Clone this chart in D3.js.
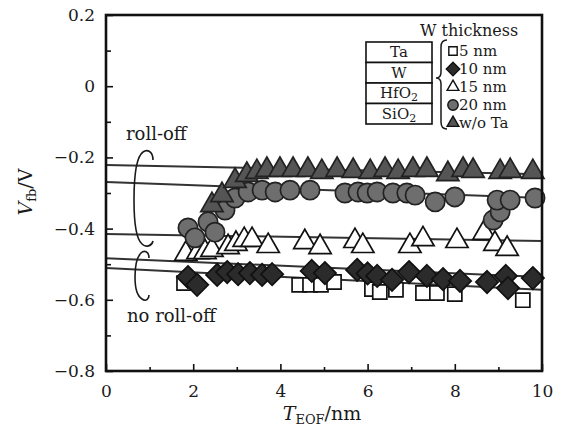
<!DOCTYPE html>
<html>
<head>
<meta charset="utf-8">
<script src="https://cdn.jsdelivr.net/npm/d3@7"></script>
<style>
  html, body { margin: 0; padding: 0; background: #fff; }
  svg { display: block; }
  text { font-family: "DejaVu Serif", "Liberation Serif", serif; fill: #1a1a1a; }
</style>
</head>
<body>
<svg id="chart" width="565" height="430"></svg>
<script>
// Flat-band voltage vs. equivalent oxide thickness for several W thicknesses
const xTicks = [0, 2, 4, 6, 8, 10];
const yTicks = [0.2, 0, -0.2, -0.4, -0.6, -0.8];
const xMinor = [1, 3, 5, 7, 9];
const yMinor = [0.1, -0.1, -0.3, -0.5, -0.7];

// 5 nm W (open squares)
const w5x = [1.79, 4.43, 4.68, 4.93, 5.23, 6.10, 6.28, 6.65, 7.27, 7.59, 8.00, 9.56];
const w5y = [-0.553, -0.558, -0.558, -0.558, -0.550, -0.570, -0.578, -0.572, -0.581, -0.581, -0.584, -0.601];
// 10 nm W (filled diamonds)
const w10x = [1.88, 2.09, 2.55, 2.78, 3.03, 3.30, 3.58, 3.81, 4.72, 5.02, 5.76, 6.00, 6.22, 6.56, 6.95, 7.36, 7.73, 8.12, 8.74, 9.17, 9.22, 9.79];
const w10y = [-0.536, -0.558, -0.530, -0.522, -0.528, -0.525, -0.530, -0.528, -0.519, -0.525, -0.516, -0.526, -0.533, -0.544, -0.522, -0.533, -0.542, -0.547, -0.550, -0.533, -0.567, -0.539];
// 15 nm W (open triangles)
const w15x = [1.83, 2.11, 2.27, 2.43, 2.80, 2.98, 3.17, 3.35, 3.72, 4.56, 4.91, 5.71, 5.89, 6.97, 7.27, 8.05, 8.67, 8.92, 9.20];
const w15y = [-0.471, -0.466, -0.466, -0.460, -0.452, -0.443, -0.432, -0.432, -0.449, -0.438, -0.452, -0.435, -0.449, -0.449, -0.430, -0.435, -0.412, -0.443, -0.457];
// 20 nm W (gray circles)
const w20x = [1.88, 2.04, 2.34, 2.50, 2.73, 2.96, 3.26, 3.58, 3.88, 4.22, 4.68, 5.48, 5.78, 5.99, 6.22, 6.58, 6.90, 7.09, 7.55, 8.00, 8.88, 9.04, 8.97, 9.27, 9.84];
const w20y = [-0.398, -0.426, -0.381, -0.410, -0.348, -0.314, -0.297, -0.292, -0.297, -0.292, -0.292, -0.300, -0.297, -0.300, -0.297, -0.300, -0.300, -0.306, -0.325, -0.311, -0.376, -0.353, -0.320, -0.320, -0.314];
// without Ta cap (filled triangles)
const noTaX = [2.43, 2.66, 2.96, 3.23, 3.46, 3.69, 3.99, 4.29, 4.63, 4.95, 5.30, 5.67, 6.06, 6.40, 6.70, 7.04, 7.36, 7.84, 8.19, 8.42, 9.04, 9.27, 9.79];
const noTaY = [-0.334, -0.306, -0.266, -0.249, -0.241, -0.235, -0.235, -0.235, -0.235, -0.241, -0.235, -0.238, -0.241, -0.235, -0.241, -0.235, -0.235, -0.247, -0.235, -0.238, -0.241, -0.238, -0.241];

// linear fits: value at T = 0 and T = 10
const fitX = [0, 10];
const fitNoTa = [-0.221, -0.247];
const fit20 = [-0.269, -0.314];
const fit15 = [-0.415, -0.435];
const fit10 = [-0.483, -0.536];
const fit5 = [-0.511, -0.572];

const legendLabels = ["5 nm", "10 nm", "15 nm", "20 nm", "w/o Ta"];
const stackLayers = ["Ta", "W", "HfO2", "SiO2"];

const svg = d3.select("#chart");
const x = d3.scaleLinear().domain([0, 10]).range([106, 542]);
const y = d3.scaleLinear().domain([-0.8, 0.2]).range([371, 15]);

const zip = (xs, ys) => xs.map((v, i) => [v, ys[i]]);

// fit lines
const line = d3.line().x(d => x(d[0])).y(d => y(d[1]));
[fitNoTa, fit20, fit15, fit10, fit5].forEach(f => {
  svg.append("path")
    .attr("d", line(zip(fitX, f)))
    .attr("fill", "none")
    .attr("stroke", "#333")
    .attr("stroke-width", 2);
});

// marker shapes
const sym = (type, size) => d3.symbol().type(type).size(size)();
const diamond = {
  draw(ctx, size) {
    const r = Math.sqrt(size / 2);
    ctx.moveTo(0, -r); ctx.lineTo(r, 0); ctx.lineTo(0, r); ctx.lineTo(-r, 0); ctx.closePath();
  }
};

const series = [
  { xs: w5x, ys: w5y, type: d3.symbolSquare, size: 200, fill: "#fff", stroke: "#111" },
  { xs: w10x, ys: w10y, type: diamond, size: 250, fill: "#2b2b2b", stroke: "#111" },
  { xs: w15x, ys: w15y, type: d3.symbolTriangle, size: 215, fill: "#fff", stroke: "#111" },
  { xs: w20x, ys: w20y, type: d3.symbolCircle, size: 290, fill: "#6e6e6e", stroke: "#222" },
  { xs: noTaX, ys: noTaY, type: d3.symbolTriangle, size: 215, fill: "#555", stroke: "#222" }
];

series.forEach(s => {
  svg.append("g").selectAll("path")
    .data(zip(s.xs, s.ys))
    .join("path")
    .attr("d", sym(s.type, s.size))
    .attr("transform", d => `translate(${x(d[0])},${y(d[1])})`)
    .attr("fill", s.fill)
    .attr("stroke", s.stroke)
    .attr("stroke-width", 1.7);
});

// axes with inward ticks
const fmt = d3.format("");
const fmtY = v => v === 0 ? "0" : d3.format(".1f")(v);
svg.append("g").attr("transform", "translate(0,371)")
  .call(d3.axisBottom(x).tickValues(xTicks).tickFormat(fmt).tickSize(-7).tickPadding(14));
svg.append("g").attr("transform", "translate(0,371)")
  .call(d3.axisBottom(x).tickValues(xMinor).tickFormat("").tickSize(-4));
svg.append("g").attr("transform", "translate(106,0)")
  .call(d3.axisLeft(y).tickValues(yTicks).tickFormat(fmtY).tickSize(-7).tickPadding(11));
svg.append("g").attr("transform", "translate(106,0)")
  .call(d3.axisLeft(y).tickValues(yMinor).tickFormat("").tickSize(-5));
svg.selectAll(".domain").remove();
svg.selectAll(".tick line").attr("stroke", "#111").attr("stroke-width", 1.6);
svg.selectAll(".tick text")
  .style("font-family", '"DejaVu Serif", serif')
  .style("font-size", "17px")
  .attr("fill", "#1a1a1a");

// frame
svg.append("rect")
  .attr("x", x(0)).attr("y", y(0.2))
  .attr("width", x(10) - x(0)).attr("height", y(-0.8) - y(0.2))
  .attr("fill", "none").attr("stroke", "#111").attr("stroke-width", 2.6);

// axis titles
const xt = svg.append("text").attr("x", 322).attr("y", 420)
  .attr("text-anchor", "middle").style("font-size", "19px");
xt.append("tspan").attr("font-style", "italic").text("T");
xt.append("tspan").attr("dy", 4).style("font-size", "13px").text("EOF");
xt.append("tspan").attr("dy", -4).text("/nm");

const yt = svg.append("text")
  .attr("transform", "translate(32,192) rotate(-90)")
  .attr("text-anchor", "middle").style("font-size", "19px");
yt.append("tspan").attr("font-style", "italic").text("V");
yt.append("tspan").attr("dy", 4).style("font-size", "13px").text("fb");
yt.append("tspan").attr("dy", -4).text("/V");

// roll-off annotations
svg.append("text").attr("x", 126).attr("y", 140).style("font-size", "18px").text("roll-off");
svg.append("text").attr("x", 127).attr("y", 322).style("font-size", "18px").text("no roll-off");
const paren = [
  "M153,160 C153,151 147,149 143,152 C136,157 134,180 134,200 C134,225 136,239 142,244 C146,248 152,246 153,241",
  "M149,258 C149,251 144,250 141,253 C136,258 135,268 135,277 C135,289 137,296 142,299 C146,302 149,299 149,295"
];
paren.forEach(p => svg.append("path").attr("d", p)
  .attr("fill", "none").attr("stroke", "#1a1a1a").attr("stroke-width", 1.6));

// legend: layer stack, brace, markers
svg.append("text").attr("x", 420).attr("y", 36).style("font-size", "16px").text("W thickness");

const stackTop = 42, stackH = 20.5;
stackLayers.forEach((name, i) => {
  const y0 = stackTop + i * stackH;
  svg.append("rect").attr("x", 366).attr("y", y0).attr("width", 66).attr("height", stackH)
    .attr("fill", "#fff").attr("stroke", "#111").attr("stroke-width", 1.6);
  const t = svg.append("text").attr("x", 399).attr("y", y0 + 15)
    .attr("text-anchor", "middle").style("font-size", "15px");
  const m = name.match(/^(.*?)(\d)$/);
  if (m) {
    t.append("tspan").text(m[1]);
    t.append("tspan").attr("dy", 3).style("font-size", "11px").text(m[2]);
  } else {
    t.text(name);
  }
});

svg.append("path")
  .attr("d", "M447,40 Q441,40 441,47 L441,72 Q441,78 436,78 Q441,78 441,84 L441,122 Q441,129 447,129")
  .attr("fill", "none").attr("stroke", "#1a1a1a").attr("stroke-width", 1.5);

const legendSizes = [70, 90, 60, 85, 60];
legendLabels.forEach((lab, i) => {
  const cy = 51 + i * 18;
  const s = series[i];
  svg.append("path")
    .attr("d", sym(s.type, legendSizes[i]))
    .attr("transform", `translate(453,${cy})`)
    .attr("fill", s.fill).attr("stroke", "#111").attr("stroke-width", 1.4);
  svg.append("text").attr("x", 459).attr("y", cy + 5).style("font-size", "15px").text(lab);
});
</script>
</body>
</html>
